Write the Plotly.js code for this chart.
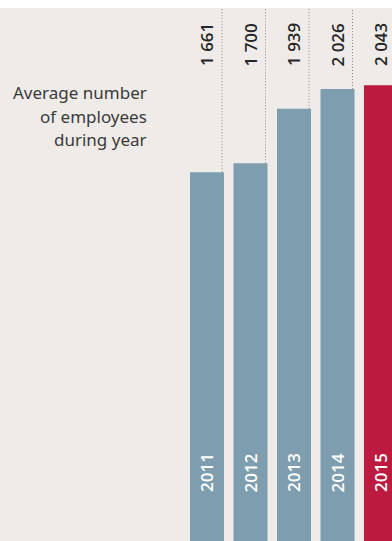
<!DOCTYPE html>
<html>
<head>
<meta charset="utf-8">
<script src="https://cdn.plot.ly/plotly-3.0.1.min.js"></script>
<style>
html,body{margin:0;padding:0;background:#ffffff;}
#chart{width:392px;height:541px;}
</style>
</head>
<body>
<div id="chart"></div>
<script>
const years = [2011, 2012, 2013, 2014, 2015];
const yearLabels = ["2011", "2012", "2013", "2014", "2015"];
const employees = [1661, 1700, 1939, 2026, 2043];
const valueLabels = ["1 661", "1 700", "1 939", "2 026", "2 043"];
const titleLines = ["Average number", "of employees", "during year"];

const BLUE = "#7e9eb0";
const RED = "#bd1a3f";
const barColors = years.map((y, i) => i === years.length - 1 ? RED : BLUE);

const yRange = [41, 2382];
const xRange = [2006.241, 2015.253];

// dotted guide lines from bar top to the top of the plot
const lx = [], ly = [];
years.forEach((y, i) => {
  lx.push(y + 0.345, y + 0.345, null);
  ly.push(employees[i], yRange[1], null);
});

const traces = [
  {
    type: "bar",
    x: years,
    y: employees,
    width: 0.782,
    marker: {color: barColors, line: {width: 0}},
    hoverinfo: "skip"
  },
  {
    type: "scatter",
    mode: "lines",
    x: lx,
    y: ly,
    line: {color: "#8a8a8a", width: 1, dash: "1px,2px"},
    hoverinfo: "skip"
  }
];

const FONT = "Noto Sans, DejaVu Sans, sans-serif";
const NUMFONT = "Open Sans, Noto Sans, sans-serif";
const annotations = [];
years.forEach((y, i) => {
  annotations.push({
    x: y, xref: "x", y: 0.9306, yref: "paper",
    text: valueLabels[i], textangle: -90, showarrow: false,
    xanchor: "center", yanchor: "middle",
    font: {family: NUMFONT, size: 17, color: "#262626", weight: 600}
  });
  annotations.push({
    x: y, xref: "x", y: 0.1276, yref: "paper",
    text: yearLabels[i], textangle: -90, showarrow: false,
    xanchor: "center", yanchor: "middle",
    font: {family: NUMFONT, size: 17, color: "#ffffff", weight: 600}
  });
});
const titleY = [92.5, 116.5, 139.5];
titleLines.forEach((t, i) => {
  annotations.push({
    x: 149 / 392, xref: "paper", y: (541 - titleY[i]) / 533, yref: "paper",
    text: t, showarrow: false, xanchor: "right", yanchor: "middle", align: "right",
    font: {family: FONT, size: 17, color: "#3a3a3a"}
  });
});

const layout = {
  width: 392, height: 541,
  margin: {l: 0, r: 0, t: 8, b: 0, pad: 0},
  paper_bgcolor: "#ffffff",
  plot_bgcolor: "#efebe8",
  showlegend: false,
  xaxis: {range: xRange, visible: false, fixedrange: true},
  yaxis: {range: yRange, visible: false, fixedrange: true},
  annotations: annotations
};

Plotly.newPlot("chart", traces, layout, {displayModeBar: false, staticPlot: true});
</script>
</body>
</html>
